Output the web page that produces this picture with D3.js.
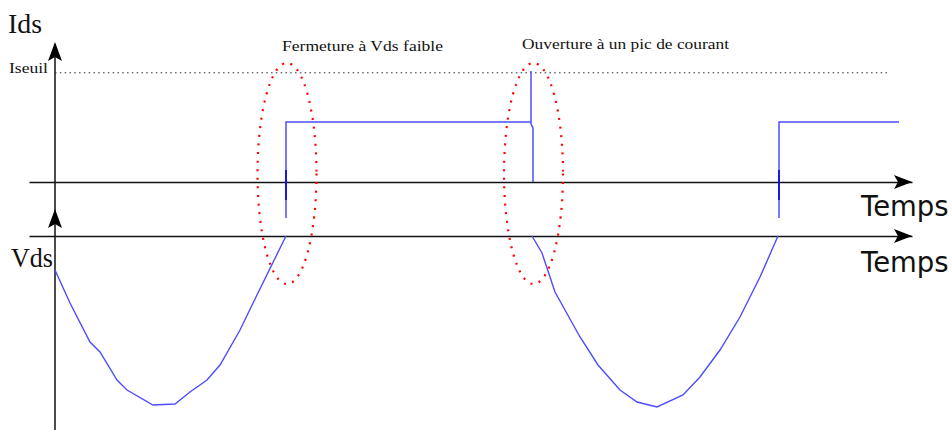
<!DOCTYPE html>
<html>
<head>
<meta charset="utf-8">
<script src="https://cdn.jsdelivr.net/npm/d3@7"></script>
<style>
  html, body { margin: 0; padding: 0; background: #fff; }
  svg { display: block; }
</style>
</head>
<body>
<script>
// Drain current (Ids) and drain-source voltage (Vds) of a soft-switched transistor.
// Time in arbitrary units, Ids in units of the conduction level, Vds in arbitrary volts.

// Ids: closing at low Vds, then opening with a current peak
const idsPulseTime  = [231, 231, 476, 476, 476, 478, 478];
const idsPulseValue = [-0.6, 1.0, 1.0, 1.85, 0.97, 0.9, 0];
// Ids: next closing
const idsNextTime  = [724, 724, 844];
const idsNextValue = [-0.6, 1.0, 1.0];
// short ringing right at the switching instants
const glitchTime  = [231, 724];
const glitchRange = [0.2, -0.3];
// threshold current
const iseuil = 1.82;
const iseuilEnd = 833;

// Vds: first and second half-waves while the switch is open
const vdsTime1  = [0, 15, 35, 45, 62, 72, 98, 120, 135, 152, 165, 185, 200, 231];
const vdsValue1 = [-34, -67, -106, -116, -144, -154, -169, -168, -156, -144, -129, -94, -63, 0];
const vdsTime2  = [477, 487, 500, 525, 543, 565, 582, 602, 628, 645, 665, 685, 705, 723];
const vdsValue2 = [0, -17, -56, -101, -129, -154, -166, -171, -159, -141, -114, -81, -41, 0];

// highlighted switching events
const highlightTime  = [232, 478.5];
const highlightLabel = ["Fermeture à Vds faible", "Ouverture à un pic de courant"];
const axisLabel = "Temps";

const W = 952, H = 430;
const svg = d3.select("body").append("svg").attr("width", W).attr("height", H);

const x = d3.scaleLinear().domain([-26, 857]).range([29, 912]);
const yIds = d3.scaleLinear().domain([0, 1]).range([182, 122]);
const yVds = d3.scaleLinear().domain([0, -171]).range([236, 407]);

const axisColor = "#111";
const blue = "#4d4dff";

// vertical axis shared by both panels
svg.append("line")
  .attr("x1", x(0)).attr("x2", x(0))
  .attr("y1", 44).attr("y2", H)
  .attr("stroke", axisColor).attr("stroke-width", 1.5);

// horizontal time axes (no ticks)
function timeAxis(yPos) {
  const g = svg.append("g").attr("transform", `translate(0,${yPos})`)
    .call(d3.axisBottom(x).tickValues([]).tickSizeOuter(0));
  g.select(".domain").attr("stroke", axisColor).attr("stroke-width", 1.6);
  // arrow head
  const tip = x.range()[1];
  svg.append("path")
    .attr("d", `M${tip},${yPos} L${tip - 18},${yPos - 7} L${tip - 14},${yPos} L${tip - 18},${yPos + 7} Z`)
    .attr("fill", "#000");
}
timeAxis(yIds(0));
timeAxis(yVds(0));

// vertical arrow heads
function upArrow(tipY) {
  const cx = x(0);
  svg.append("path")
    .attr("d", `M${cx},${tipY} L${cx + 7},${tipY + 19} L${cx},${tipY + 15} L${cx - 7},${tipY + 19} Z`)
    .attr("fill", "#000");
}
upArrow(42);
upArrow(209);

// threshold line
svg.append("line")
  .attr("x1", x(0)).attr("x2", x(iseuilEnd))
  .attr("y1", yIds(iseuil)).attr("y2", yIds(iseuil))
  .attr("stroke", "#333").attr("stroke-width", 1)
  .attr("stroke-dasharray", "1.6 3.2");

// waveforms
const idsLine = (ts, vs) => d3.line().x((d, i) => x(ts[i])).y((d, i) => yIds(vs[i]))(ts);
const vdsLine = (ts, vs) => d3.line().x((d, i) => x(ts[i])).y((d, i) => yVds(vs[i]))(ts);

[[idsPulseTime, idsPulseValue], [idsNextTime, idsNextValue]].forEach(([t, v]) => {
  svg.append("path").attr("d", idsLine(t, v))
    .attr("fill", "none").attr("stroke", blue).attr("stroke-width", 1.5);
});
glitchTime.forEach(t => {
  svg.append("line")
    .attr("x1", x(t)).attr("x2", x(t))
    .attr("y1", yIds(glitchRange[0])).attr("y2", yIds(glitchRange[1]))
    .attr("stroke", "#0000e6").attr("stroke-width", 1.6);
});
[[vdsTime1, vdsValue1], [vdsTime2, vdsValue2]].forEach(([t, v]) => {
  svg.append("path").attr("d", vdsLine(t, v))
    .attr("fill", "none").attr("stroke", blue).attr("stroke-width", 1.4);
});

// dotted ellipses around the switching events
highlightTime.forEach(t => {
  svg.append("ellipse")
    .attr("cx", x(t)).attr("cy", 173.5)
    .attr("rx", 29.5).attr("ry", 110.5)
    .attr("fill", "none").attr("stroke", "#ff0000")
    .attr("stroke-width", 2.2).attr("stroke-dasharray", "2 6.6");
});

// text
const serif = "'Liberation Serif', 'DejaVu Serif', serif";
function label(txt, px, py, size, len, family) {
  const t = svg.append("text")
    .attr("x", px).attr("y", py)
    .attr("font-family", family || serif)
    .attr("font-size", size).attr("fill", "#111")
    .text(txt);
  if (len) t.attr("textLength", len).attr("lengthAdjust", "spacingAndGlyphs");
  return t;
}
label("Ids", 8, 33, 27, 34);
label("Iseuil", 9, 72.5, 14, 39);
label("Vds", 11, 267, 27, 42);
label(highlightLabel[0], 282, 50.5, 15.5, 161);
label(highlightLabel[1], 522, 49, 15.5, 207);
label(axisLabel, 861, 216, 27.5, null, "'DejaVu Sans', sans-serif");
label(axisLabel, 861, 272, 27.5, null, "'DejaVu Sans', sans-serif");
</script>
</body>
</html>
